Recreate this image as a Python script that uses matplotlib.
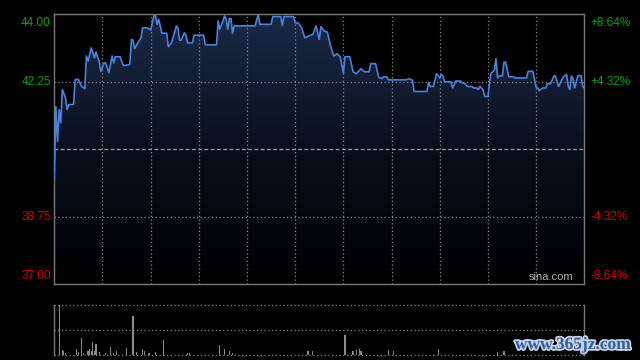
import numpy as np
import matplotlib
matplotlib.use("Agg")
import matplotlib.pyplot as plt
from matplotlib.colors import LinearSegmentedColormap
import matplotlib.patheffects as pe
import matplotlib.transforms as mtransforms

# ---- data (minutes from 09:30, HK session incl. lunch gap compressed) ----
minutes = [0, 1, 2, 3, 4, 5, 7, 8, 9, 12, 13, 15, 17, 19, 20, 21, 23, 25, 26, 28,
           29, 31, 32, 34, 36, 37, 38, 41, 43, 47, 48, 49, 50, 52, 54, 55, 58, 60, 62, 63,
           64, 65, 67, 70, 71, 73, 76, 77, 78, 79, 81, 82, 83, 86, 87, 93, 94, 101, 102, 103,
           105, 106, 107, 108, 109, 110, 111, 112, 114, 125, 127, 128, 135, 136, 141, 142, 143, 149, 150, 152,
           154, 156, 159, 161, 163, 165, 166, 168, 170, 172, 174, 176, 178, 180, 181, 184, 186, 188, 191, 193,
           196, 197, 198, 200, 202, 204, 205, 207, 208, 219, 221, 223, 224, 232, 233, 234, 236, 238, 239, 240,
           241, 242, 243, 247, 248, 250, 253, 254, 256, 257, 260, 261, 263, 264, 265, 267, 268, 270, 271, 272,
           274, 275, 276, 277, 279, 280, 281, 283, 286, 287, 294, 295, 298, 300, 301, 302, 304, 306, 307, 309,
           311, 312, 314, 317, 319, 320, 321, 322, 323, 324, 326, 328, 329, 330]
prices = [39.75, 41.61, 40.70, 41.53, 41.18, 42.05, 41.83, 41.53, 41.66, 41.66, 42.31, 42.31, 42.13, 42.07, 42.92, 42.79, 43.13, 42.87, 43.02, 42.76,
          42.52, 42.74, 42.74, 42.48, 42.92, 42.74, 42.90, 42.90, 42.67, 42.70, 43.35, 43.33, 43.11, 43.26, 43.39, 43.65, 43.65, 43.59, 43.96, 43.97,
          43.74, 43.87, 43.51, 43.51, 43.16, 43.26, 43.70, 43.65, 43.33, 43.33, 43.52, 43.45, 43.26, 43.26, 43.46, 43.46, 43.21, 43.21, 43.83, 43.61,
          43.83, 43.96, 43.87, 43.61, 43.89, 43.89, 43.51, 43.70, 43.70, 43.70, 44.00, 43.74, 43.74, 43.94, 43.94, 43.71, 43.94, 43.94, 43.78, 43.77,
          43.65, 43.39, 43.45, 43.48, 43.70, 43.35, 43.68, 43.57, 43.54, 43.18, 42.92, 42.98, 42.90, 42.48, 42.90, 42.90, 42.51, 42.46, 42.59, 42.51,
          42.51, 42.72, 42.72, 42.72, 42.37, 42.33, 42.38, 42.38, 42.30, 42.30, 42.33, 42.29, 42.00, 42.00, 42.24, 42.13, 42.13, 42.46, 42.41, 42.35,
          42.44, 42.40, 42.25, 42.25, 42.09, 42.27, 42.27, 42.22, 42.20, 42.13, 42.13, 42.09, 42.09, 42.05, 42.13, 42.05, 41.87, 41.87, 42.26, 42.48,
          42.55, 42.85, 42.35, 42.40, 42.40, 42.76, 42.76, 42.38, 42.38, 42.35, 42.35, 42.52, 42.52, 42.11, 42.09, 42.02, 42.09, 42.09, 42.20, 42.20,
          42.40, 42.40, 42.13, 42.38, 42.44, 42.13, 42.05, 42.40, 42.33, 42.09, 42.41, 42.41, 42.13, 42.09]
prev_close = 40.50

vol_minutes = [3, 5, 6, 7, 14, 15, 17, 18, 21, 22, 23, 24, 25, 26, 28, 32, 35, 37, 39, 45,
               49, 51, 55, 56, 59, 63, 68, 83, 84, 103, 106, 109, 111, 158, 161, 181, 186, 188, 190, 191,
               208, 211, 239, 276, 280]
vol_values = [100, 9, 7, 4, 11, 6, 33, 4, 8, 11, 8, 25, 8, 21, 5, 3, 15, 4, 7, 13,
              77, 5, 11, 8, 4, 5, 29, 3, 3, 19, 11, 8, 4, 7, 7, 39, 7, 9, 11, 7,
              9, 7, 11, 5, 7]

left_ticks = [44.00, 42.25, 38.75, 37.00]
left_labels = ["44.00", "42.25", "38.75", "37.00"]
right_labels = ["+8.64%", "+4.32%", "-4.32%", "-8.64%"]
grid_minutes = [30, 60, 90, 120, 150, 180, 210, 240, 270, 300]

GREEN = "#0e9e0e"
RED = "#d40000"
GRID = "#8a8a8a"
LINE = "#4a82dc"

plt.rcParams['font.family'] = ['Liberation Sans', 'DejaVu Sans']

fig = plt.figure(figsize=(6.4, 3.6), dpi=100, facecolor="black")
ax = fig.add_axes([54.3 / 640, 1 - 284.3 / 360, 530 / 640, 270 / 360], facecolor="black")
axv = fig.add_axes([54.3 / 640, 1 - 355.0 / 360, 530 / 640, 50.3 / 360], facecolor="black")

x = np.array(minutes)
y = np.array(prices)
ax.set_xlim(0, 330)
ax.set_ylim(37.0, 44.0)

# gradient fill under the line
cmap = LinearSegmentedColormap.from_list("g", ["#000000", "#0a0f1c", "#1b2a48"])
grad = np.linspace(0, 1, 256).reshape(-1, 1)
im = ax.imshow(grad, extent=[0, 330, 37.0, 44.0], origin="lower", aspect="auto",
               cmap=cmap, zorder=1)
poly = ax.fill_between(x, y, 37.0, color="none", zorder=1)
im.set_clip_path(poly.get_paths()[0], transform=ax.transData)

# grid
for gm in grid_minutes:
    ax.axvline(gm, color=GRID, lw=0.9, ls=(0, (1, 2)), zorder=2)
for gy in [42.25, 38.75]:
    ax.axhline(gy, color=GRID, lw=0.9, ls=(0, (1, 2)), zorder=2)
ax.axhline(prev_close, color="#a0a0a0", lw=0.9, ls=(0, (3, 2)), zorder=2)

ax.plot(x, y, color=LINE, lw=1.2, zorder=3)

for s in ax.spines.values():
    s.set_color("#7a7a7a")
    s.set_linewidth(1.0)
ax.set_xticks([])
ax.set_yticks([])

trans = mtransforms.blended_transform_factory(ax.transAxes, ax.transData)
vas = ["top", "center", "center", "bottom"]
offs = [-2.5, 0, 0, 2.0]
for v, tl, tr, c, va, off in zip(left_ticks, left_labels, right_labels,
                                 [GREEN, GREEN, RED, RED], vas, offs):
    o = mtransforms.offset_copy(trans, fig=fig, x=0, y=off, units="dots")
    ax.text(-3.5 / 530, v, tl, transform=o, color=c, fontsize=8.5,
            ha="right", va=va)
    ax.text(1.0 + 6 / 530, v, tr, transform=o, color=c, fontsize=8.5,
            ha="left", va=va)

ax.text(0.979, 0.008, "sina.com", transform=ax.transAxes, color="#b4b4b4",
        fontsize=8, ha="right", va="bottom", zorder=4)

# volume panel
axv.set_xlim(0, 330)
axv.set_ylim(0, 100)
axv.bar(vol_minutes, vol_values, width=0.7, color="#8c8c8c", zorder=3)
for gy in [100, 50, 0.5]:
    axv.axhline(gy, color=GRID, lw=0.9, ls=(0, (1, 2)), zorder=2, clip_on=False)
axv.spines["top"].set_visible(False)
axv.spines["bottom"].set_visible(False)
for s in ["left", "right"]:
    axv.spines[s].set_color("#7a7a7a")
    axv.spines[s].set_linewidth(1.0)
axv.set_xticks([])
axv.set_yticks([])

fig.text(573 / 640, 1 - 345 / 360, "www.365jz.com", color="#2c5fa6", fontsize=12.5,
         fontweight="bold", family="Liberation Serif", ha="center", va="center",
         path_effects=[pe.withStroke(linewidth=2.5, foreground="#c8d2e2")])

fig.savefig("out.png", dpi=100, facecolor="black")
